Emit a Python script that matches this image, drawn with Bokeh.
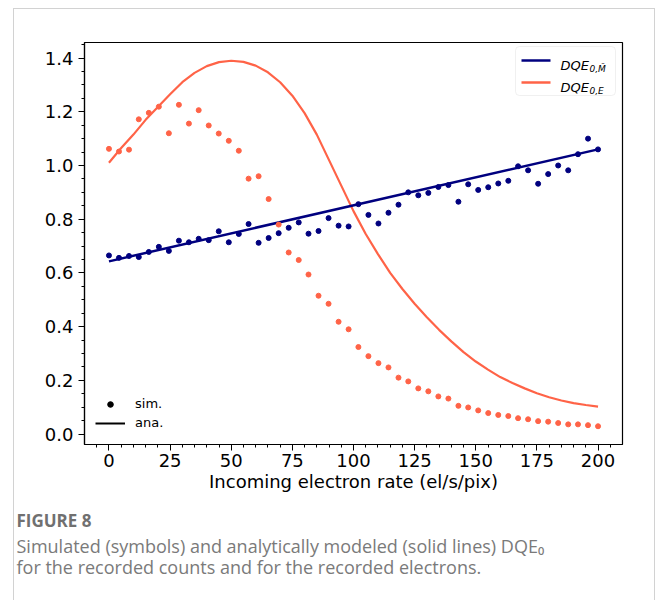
from bokeh.plotting import figure
from bokeh.models import (Range1d, FixedTicker, PrintfTickFormatter, Label,
                          BoxAnnotation, Legend, LegendItem, Title)
from bokeh.embed import file_html
from bokeh.resources import INLINE

# ---------------- data ----------------
rate = [0.0, 4.1, 8.2, 12.2, 16.3, 20.4, 24.5, 28.6, 32.7, 36.7,
        40.8, 44.9, 49.0, 53.1, 57.1, 61.2, 65.3, 69.4, 73.5, 77.6,
        81.6, 85.7, 89.8, 93.9, 98.0, 102.0, 106.1, 110.2, 114.3, 118.4,
        122.4, 126.5, 130.6, 134.7, 138.8, 142.9, 146.9, 151.0, 155.1, 159.2,
        163.3, 167.3, 171.4, 175.5, 179.6, 183.7, 187.8, 191.8, 195.9, 200.0]

dqe_m_sim = [0.665, 0.656, 0.663, 0.659, 0.678, 0.697, 0.682, 0.720, 0.714, 0.727,
             0.722, 0.755, 0.714, 0.745, 0.782, 0.712, 0.730, 0.748, 0.768, 0.788,
             0.746, 0.756, 0.804, 0.776, 0.773, 0.856, 0.816, 0.784, 0.824, 0.854,
             0.900, 0.889, 0.898, 0.920, 0.927, 0.865, 0.930, 0.909, 0.919, 0.933,
             0.943, 0.997, 0.982, 0.932, 0.968, 1.000, 0.982, 1.042, 1.100, 1.060]

dqe_e_sim = [1.062, 1.052, 1.059, 1.172, 1.196, 1.219, 1.120, 1.226, 1.156, 1.206,
             1.149, 1.119, 1.092, 1.055, 0.951, 0.960, 0.875, 0.780, 0.676, 0.648,
             0.594, 0.515, 0.485, 0.418, 0.390, 0.324, 0.290, 0.264, 0.248, 0.210,
             0.196, 0.170, 0.159, 0.140, 0.132, 0.105, 0.099, 0.088, 0.078, 0.071,
             0.067, 0.059, 0.055, 0.048, 0.046, 0.041, 0.036, 0.036, 0.033, 0.029]

ana_m_rate = [0.0, 200.0]
ana_m = [0.643, 1.060]

ana_e_rate = [0, 5, 10, 15, 20, 25, 30, 35, 40, 45, 50, 55, 60, 65, 70, 75, 80,
              85, 90, 95, 100, 105, 110, 115, 120, 125, 130, 135, 140, 145, 150,
              155, 160, 165, 170, 175, 180, 185, 190, 195, 200]
ana_e = [1.010, 1.065, 1.115, 1.170, 1.218, 1.265, 1.310, 1.345, 1.370, 1.385,
         1.390, 1.386, 1.372, 1.347, 1.310, 1.260, 1.195, 1.115, 1.020, 0.925,
         0.830, 0.745, 0.670, 0.600, 0.540, 0.485, 0.435, 0.388, 0.345, 0.305,
         0.270, 0.240, 0.212, 0.190, 0.170, 0.152, 0.137, 0.125, 0.115, 0.108,
         0.102]

x_ticks = [0, 25, 50, 75, 100, 125, 150, 175, 200]
x_minor = [v for v in range(-5, 210, 5)]
y_ticks = [0.0, 0.2, 0.4, 0.6, 0.8, 1.0, 1.2, 1.4]
y_minor = [round(0.05 * i, 2) for i in range(0, 30)]

x_label = "Incoming electron rate (el/s/pix)"
caption_head = "FIGURE 8"
caption_1 = "Simulated (symbols) and analytically modeled (solid lines) DQE\u2080"
caption_2 = "for the recorded counts and for the recorded electrons."

BLUE = "#00007f"
ORANGE = "#ff6347"
NAN = float("nan")

# ---------------- layout (page px) ----------------
CARD_L, CARD_T, CARD_R = 13, 8, 654         # card border position on the page
C_L, C_T = CARD_L + 1, CARD_T + 1          # canvas origin (inside 1px border)
W, H = CARD_R - C_L, 600 - C_T
F_LEFT, F_RIGHT, F_TOP, F_BOTTOM = 84, 620, 42, 443   # frame, page coordinates


def sx(x):
    return x - F_LEFT


def sy(y):
    return F_BOTTOM - y


p = figure(width=W, height=H, output_backend="svg", toolbar_location=None,
           x_range=Range1d(-10, 210), y_range=Range1d(-0.039, 1.458),
           min_border_left=F_LEFT - C_L, min_border_right=CARD_R - F_RIGHT,
           min_border_top=F_TOP - C_T, min_border_bottom=600 - F_BOTTOM)
p.margin = (CARD_T, 0, 0, CARD_L)
p.styles = {"border-top": "1px solid #d2d2d2", "border-left": "1px solid #d2d2d2",
            "border-right": "1px solid #d2d2d2", "box-sizing": "content-box"}

p.background_fill_color = "white"
p.border_fill_color = "white"
p.outline_line_color = "black"
p.outline_line_width = 1.2
p.xgrid.visible = False
p.ygrid.visible = False

for ax in (p.xaxis[0], p.yaxis[0]):
    ax.axis_line_color = "black"
    ax.axis_line_width = 1.2
    ax.major_tick_line_color = "black"
    ax.minor_tick_line_color = "black"
    ax.major_tick_in = 0
    ax.major_tick_out = 6
    ax.minor_tick_in = 0
    ax.minor_tick_out = 3
    ax.major_label_text_font = "DejaVu Sans"
    ax.major_label_text_font_size = "18px"
    ax.major_label_text_color = "black"

p.xaxis.major_label_standoff = 3
p.yaxis.major_label_standoff = 5
p.xaxis.ticker = FixedTicker(ticks=x_ticks, minor_ticks=x_minor)
p.yaxis.ticker = FixedTicker(ticks=y_ticks, minor_ticks=y_minor)
p.xaxis.formatter = PrintfTickFormatter(format="%d")
p.yaxis.formatter = PrintfTickFormatter(format="%.1f")
p.xaxis.axis_label = x_label
p.xaxis.axis_label_text_font = "DejaVu Sans"
p.xaxis.axis_label_text_font_size = "18px"
p.xaxis.axis_label_text_font_style = "normal"
p.xaxis.axis_label_text_color = "black"
p.xaxis.axis_label_standoff = 1

# ---------------- data glyphs ----------------
p.line(ana_e_rate, ana_e, line_color=ORANGE, line_width=2.2)
p.line(ana_m_rate, ana_m, line_color=BLUE, line_width=2.5)
p.scatter(rate, dqe_m_sim, size=5, fill_color=BLUE, line_color=BLUE)
p.scatter(rate, dqe_e_sim, size=5, fill_color=ORANGE, line_color=ORANGE)

# ---------------- bottom-left style legend ----------------
r_sim = p.scatter(x=[NAN], y=[NAN], size=5, fill_color="black", line_color="black")
r_ana = p.line(x=[NAN, NAN], y=[NAN, NAN], line_color="black", line_width=2)
leg = Legend(items=[LegendItem(label="sim.", renderers=[r_sim]),
                    LegendItem(label="ana.", renderers=[r_ana])],
             location=(sx(95), sy(429)), margin=0, padding=0, spacing=4,
             glyph_width=30, glyph_height=14, label_height=14,
             label_standoff=10, label_text_font="DejaVu Sans",
             label_text_font_size="13px", label_text_color="black",
             border_line_color=None, background_fill_alpha=0)
p.add_layout(leg)

# ---------------- top-right legend (manual, for subscripts) ----------------
p.add_layout(BoxAnnotation(left=sx(515), right=sx(615), top=sy(45), bottom=sy(94),
                           left_units="screen", right_units="screen",
                           top_units="screen", bottom_units="screen",
                           fill_color="white", fill_alpha=0.8,
                           line_color="#cccccc", line_width=1, border_radius=4))
for cy, col in ((59, BLUE), (81, ORANGE)):
    p.add_layout(BoxAnnotation(left=sx(521), right=sx(550), top=sy(cy - 1.2),
                               bottom=sy(cy + 1.2),
                               left_units="screen", right_units="screen",
                               top_units="screen", bottom_units="screen",
                               fill_color=col, fill_alpha=1, line_color=None))

for base, sub in ((64, "0,M\u0304"), (86, "0,E")):
    p.add_layout(Label(x=sx(560), y=sy(base), x_units="screen", y_units="screen",
                       text="DQE", text_font="DejaVu Sans", text_font_size="13px",
                       text_font_style="italic", text_color="black",
                       text_baseline="alphabetic"))
    p.add_layout(Label(x=sx(589), y=sy(base + 3), x_units="screen", y_units="screen",
                       text=sub, text_font="DejaVu Sans", text_font_size="9px",
                       text_font_style="italic", text_color="black",
                       text_baseline="alphabetic"))

# ---------------- caption (titles stacked below the x axis) ----------------
cap_off = 16 - F_LEFT
p.add_layout(Title(text=" ", align="left", offset=0, standoff=9,
                   text_font_size="1px"), "below")
p.add_layout(Title(text=caption_head, align="left", offset=cap_off, standoff=0,
                   text_font="Open Sans", text_font_size="17px",
                   text_font_style="bold", text_color="#707070"), "below")
p.add_layout(Title(text=caption_1 + "\n" + caption_2, align="left", offset=cap_off,
                   standoff=0, text_font="Open Sans", text_font_size="18px",
                   text_line_height=0.9, text_font_style="normal",
                   text_color="#7a7a7a"), "below")

open("out.html", "w").write(file_html(p, INLINE))
